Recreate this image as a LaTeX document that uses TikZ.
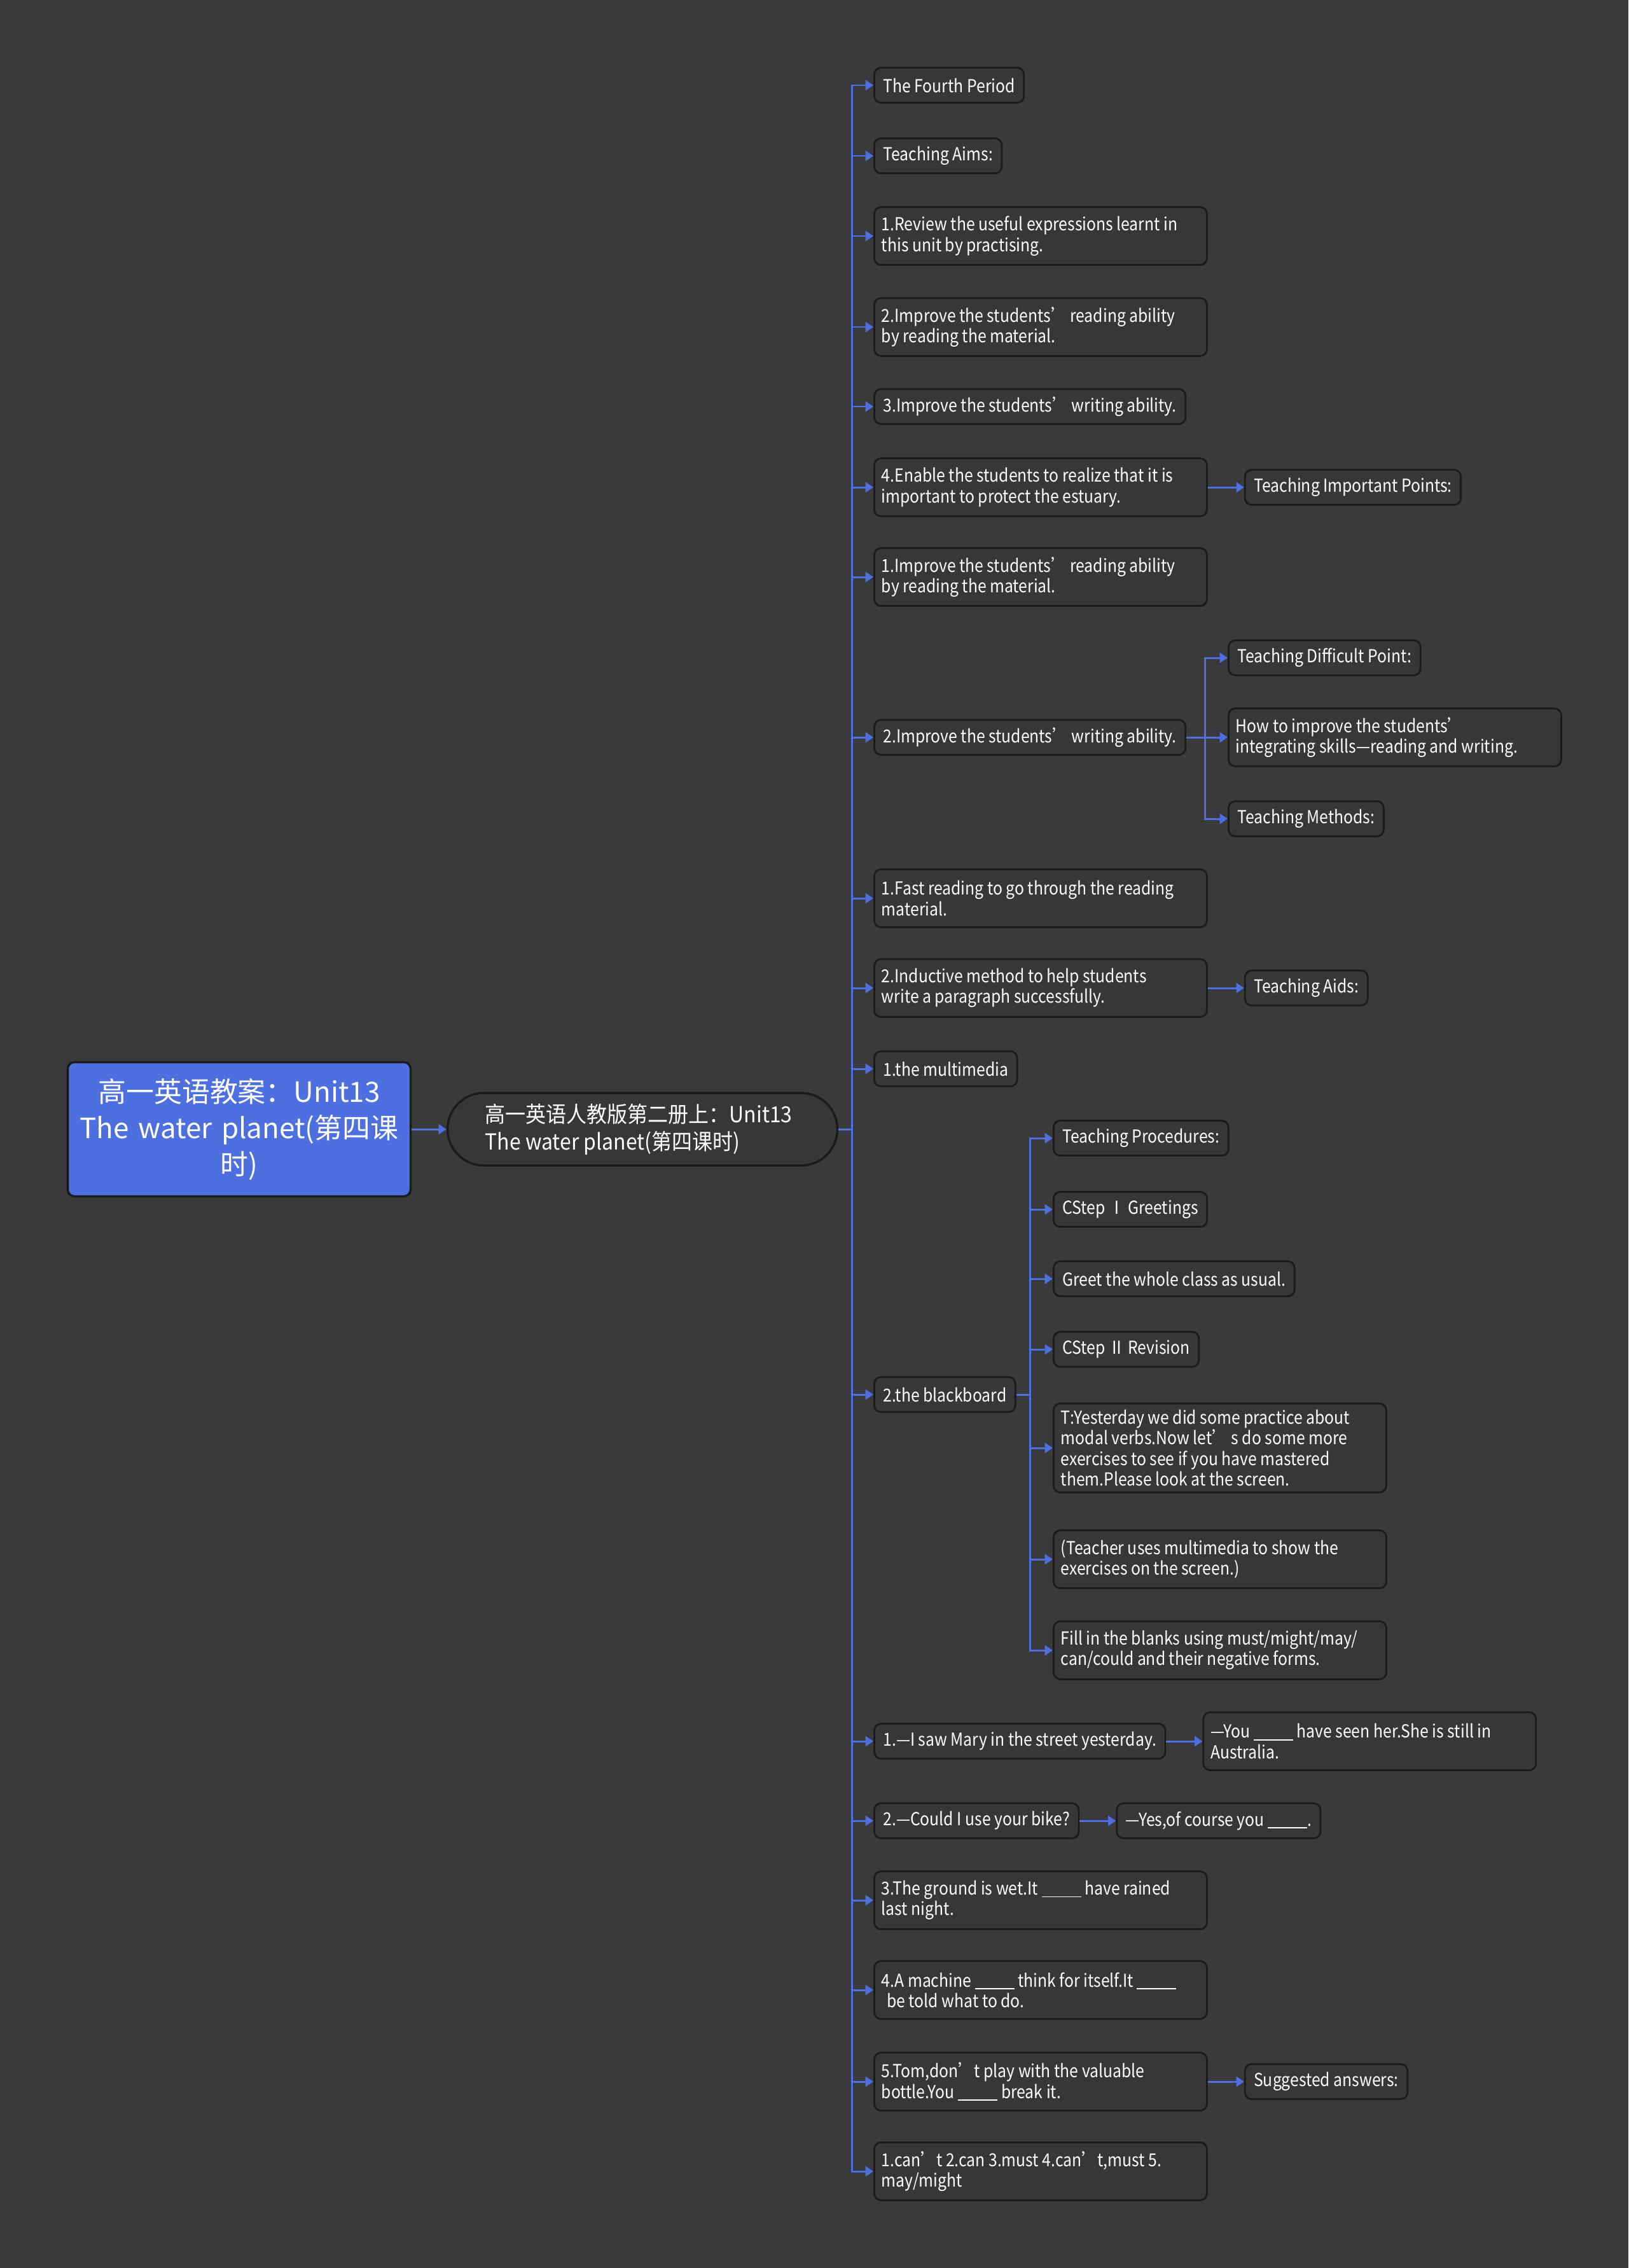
\documentclass[tikz,border=0pt]{standalone}
\usepackage{fontspec}
\setmainfont[FakeStretch=0.88]{Noto Sans CJK SC}
\newfontfamily\headfont{Noto Sans CJK SC}
\newfontfamily\topicfont[FakeStretch=0.92]{Noto Sans CJK SC}
\usepackage{xcolor}
\usetikzlibrary{arrows.meta, positioning}
\definecolor{pagebg}{HTML}{3A393B}
\definecolor{boxfill}{HTML}{373638}
\definecolor{boxline}{HTML}{1B1B1C}
\definecolor{linkblue}{HTML}{4D6FDF}
\definecolor{rootblue}{HTML}{4E6FE0}
\newcommand{\fillin}{\rule[-0.25ex]{0.62cm}{0.5pt}}
\tikzset{
  leaf/.style={
    rectangle, rounded corners=3pt, draw=boxline, line width=0.8pt,
    fill=boxfill, text=white, font=\fontsize{8}{9.2}\selectfont,
    inner xsep=0.14cm, inner ysep=0.1cm, minimum height=0.55cm, anchor=west
  },
  leafwide/.style={leaf, text width=5cm, inner xsep=0.115cm, align=flush left, minimum height=0.91cm},
  rootbox/.style={
    rectangle, rounded corners=3pt, draw=boxline, line width=1pt,
    fill=rootblue, text=white, font=\headfont\fontsize{12.5}{16.2}\selectfont,
    align=center, text width=5.31cm, inner xsep=0.04cm,
    minimum width=5.39cm, minimum height=2.11cm
  },
  topicbox/.style={
    rectangle, rounded corners=0.57cm, draw=boxline, line width=1pt,
    fill=boxfill, text=white, font=\topicfont\fontsize{9.9}{12.2}\selectfont,
    align=flush left, text width=4.95cm, inner xsep=0.59cm, minimum height=1.14cm
  },
  link/.style={draw=linkblue, line width=0.85pt, -{Triangle[length=3.5pt,width=4.5pt]}}
}

\begin{document}
\begin{tikzpicture}[node distance=0.57cm]
  \fill[pagebg] (0,0) rectangle (25.6,-35.65);
  \useasboundingbox (0,0) rectangle (25.6,-35.65);

  \node[rootbox] (root) at (3.76,-17.75) {高一英语教案：Unit13\\The water planet(第四课\\时)};
  \node[topicbox] (topic) at (10.10,-17.75) {高一英语人教版第二册上：Unit13\\The water planet(第四课时)};

  \node[leaf]     (period) at (13.73,-1.34)  {The Fourth Period};
  \node[leaf]     (aims)   at (13.73,-2.45)  {Teaching Aims:};
  \node[leafwide] (aim1)   at (13.73,-3.71)  {1.Review the useful expressions learnt in\\this unit by practising.};
  \node[leafwide] (aim2)   at (13.73,-5.14)  {2.Improve the students’ reading ability\\by reading the material.};
  \node[leaf]     (aim3)   at (13.73,-6.39)  {3.Improve the students’ writing ability.};
  \node[leafwide] (aim4)   at (13.73,-7.66)  {4.Enable the students to realize that it is\\important to protect the estuary.};
  \node[leaf, right=of aim4] (impt) {Teaching Important Points:};
  \node[leafwide] (imp1)   at (13.73,-9.07)  {1.Improve the students’ reading ability\\by reading the material.};
  \node[leaf]     (imp2)   at (13.73,-11.59) {2.Improve the students’ writing ability.};
  \node[leaf]     (diff)    at (19.30,-10.34) {Teaching Difficult Point:};
  \node[leafwide] (howto)   at (19.30,-11.59) {How to improve the students’\\integrating skills—reading and writing.};
  \node[leaf]     (methods) at (19.30,-12.87) {Teaching Methods:};
  \node[leafwide] (meth1)  at (13.73,-14.12) {1.Fast reading to go through the reading\\material.};
  \node[leafwide] (meth2)  at (13.73,-15.53) {2.Inductive method to help students\\write a paragraph successfully.};
  \node[leaf, right=of meth2] (aids) {Teaching Aids:};
  \node[leaf]     (aid1)   at (13.73,-16.80) {1.the multimedia};
  \node[leaf]     (aid2)   at (13.73,-21.92) {2.the blackboard};
  \node[leaf]     (proc)   at (16.55,-17.89) {Teaching Procedures:};
  \node[leaf]     (step1)  at (16.55,-19.01) {CStep Ⅰ Greetings};
  \node[leaf]     (greet)  at (16.55,-20.10) {Greet the whole class as usual.};
  \node[leaf]     (step2)  at (16.55,-21.21) {CStep Ⅱ Revision};
  \node[leafwide] (tsay)   at (16.55,-22.76) {T:Yesterday we did some practice about\\modal verbs.Now let’ s do some more\\exercises to see if you have mastered\\them.Please look at the screen.};
  \node[leafwide] (tshow)  at (16.55,-24.51) {(Teacher uses multimedia to show the\\exercises on the screen.)};
  \node[leafwide] (fill)   at (16.55,-25.94) {Fill in the blanks using must/might/may/\\can/could and their negative forms.};
  \node[leaf]     (ex1)    at (13.73,-27.37) {1.—I saw Mary in the street yesterday.};
  \node[leafwide, right=of ex1] (ans1) {—You \fillin\ have seen her.She is still in\\Australia.};
  \node[leaf]     (ex2)    at (13.73,-28.62) {2.—Could I use your bike?};
  \node[leaf, right=of ex2] (ans2) {—Yes,of course you \fillin.};
  \node[leafwide] (ex3)    at (13.73,-29.87) {3.The ground is wet.It \fillin\ have rained\\last night.};
  \node[leafwide] (ex4)    at (13.73,-31.28) {4.A machine \fillin\ think for itself.It \fillin\\\hspace{0.3em}be told what to do.};
  \node[leafwide] (ex5)    at (13.73,-32.72) {5.Tom,don’t play with the valuable\\bottle.You \fillin\ break it.};
  \node[leaf, right=of ex5] (sugg) {Suggested answers:};
  \node[leafwide] (key)    at (13.73,-34.13) {1.can’t 2.can 3.must 4.can’t,must 5.\\may/might};

  \draw[link] (root.east) -- (topic.west);
  \foreach \kid in {period,aims,aim1,aim2,aim3,aim4,imp1,imp2,meth1,meth2,aid1,aid2,ex1,ex2,ex3,ex4,ex5,key}
    \draw[link] (topic.east) -- ++(0.21,0) |- (\kid.west);
  \foreach \kid in {diff,howto,methods}
    \draw[link] (imp2.east) -| ([xshift=-0.36cm]\kid.west) -- (\kid.west);
  \foreach \kid in {proc,step1,greet,step2,tsay,tshow,fill}
    \draw[link] (aid2.east) -| ([xshift=-0.36cm]\kid.west) -- (\kid.west);
  \foreach \from/\to in {aim4/impt,meth2/aids,ex1/ans1,ex2/ans2,ex5/sugg}
    \draw[link] (\from) -- (\to);
\end{tikzpicture}
\end{document}
